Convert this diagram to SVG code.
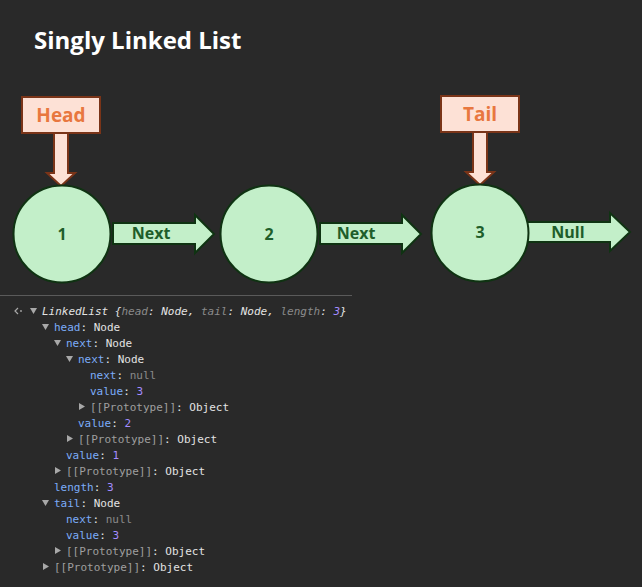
<svg xmlns="http://www.w3.org/2000/svg" width="642" height="587" viewBox="0 0 642 587">
<style>
.node{fill:#c3efc9;stroke:#0f3312;stroke-width:2}
.nlabel{font-family:"Open Sans","Liberation Sans",sans-serif;font-weight:bold;font-size:16px;fill:#1e5e2a;text-anchor:middle}
.arrowg{fill:#c3efc9;stroke:#0f3312;stroke-width:2;stroke-linejoin:miter}
.alabel{font-family:"Open Sans","Liberation Sans",sans-serif;font-weight:bold;font-size:16px;fill:#1e5e2a;text-anchor:middle}
.ptr{fill:#fde1d6;stroke:#7a3418;stroke-width:2}
.plabel{font-family:"Open Sans","Liberation Sans",sans-serif;font-weight:bold;font-size:19px;fill:#e8773f;text-anchor:middle}
.con{font-family:"DejaVu Sans Mono","Liberation Mono",monospace;font-size:11px;fill:#e3e3e3}
.k{fill:#7cacf8}
.g{fill:#8b8b8b}
.p{fill:#9f9f9f}
.n{fill:#a38cff}
.tri{fill:#a8a8a8}
</style>
<rect x="0" y="0" width="642" height="587" fill="#292929"/>
<text x="34" y="49" font-family="Open Sans, Liberation Sans, sans-serif" font-weight="bold" font-size="24" fill="#ffffff">Singly Linked List</text>

<g id="connectors">
  <path class="arrowg" d="M113,223 H195 V215 L214,234 L195,253 V244 H113 Z"/>
  <text class="alabel" x="151" y="239">Next</text>
  <path class="arrowg" d="M320,223 H402 V215 L421,234 L402,253 V244 H320 Z"/>
  <text class="alabel" x="356" y="239">Next</text>
  <path class="arrowg" d="M524,222 H610 V213 L630,232 L610,251 V242 H524 Z"/>
  <text class="alabel" x="568" y="238">Null</text>
  <path class="ptr" d="M54,133 H68 V173 H75 L61,186 L47,173 H54 Z"/>
  <path class="ptr" d="M473,132 H487 V172 H494 L480,185 L466,172 H473 Z"/>
</g>

<g id="head">
  <rect class="ptr" x="22" y="97" width="78" height="36"/>
  <text class="plabel" x="61" y="122">Head</text>
</g>
<g id="tail">
  <rect class="ptr" x="441" y="96" width="78" height="36"/>
  <text class="plabel" x="480" y="121">Tail</text>
</g>

<g id="node1">
  <circle class="node" cx="62" cy="234" r="48.5"/>
  <text class="nlabel" x="62" y="240">1</text>
</g>
<g id="node2">
  <circle class="node" cx="269" cy="234" r="48.5"/>
  <text class="nlabel" x="269" y="240">2</text>
</g>
<g id="node3">
  <circle class="node" cx="480" cy="233" r="48.5"/>
  <text class="nlabel" x="480" y="238">3</text>
</g>

<g id="console">
  <line x1="0" y1="295.5" x2="352" y2="295.5" stroke="#5a5a5a" stroke-width="1"/>
  <path d="M18,308 L15,311 L18,314" fill="none" stroke="#a8a8a8" stroke-width="1.2"/>
  <circle cx="21" cy="311" r="0.9" fill="#a8a8a8"/>
  <polygon class="tri" points="30,308 37,308 33.5,314"/>
  <text class="con" x="42" y="315" font-style="italic">LinkedList {<tspan class="g">head</tspan>: Node, <tspan class="g">tail</tspan>: Node, <tspan class="g">length</tspan>: <tspan class="n">3</tspan>}</text>

  <polygon class="tri" points="42,324 49,324 45.5,330"/>
  <text class="con" x="54" y="331"><tspan class="k">head</tspan>: Node</text>
  <polygon class="tri" points="54,340 61,340 57.5,346"/>
  <text class="con" x="66" y="347"><tspan class="k">next</tspan>: Node</text>
  <polygon class="tri" points="66,356 73,356 69.5,362"/>
  <text class="con" x="78" y="363"><tspan class="k">next</tspan>: Node</text>
  <text class="con" x="90" y="379"><tspan class="k">next</tspan>: <tspan class="g">null</tspan></text>
  <text class="con" x="90" y="395"><tspan class="k">value</tspan>: <tspan class="n">3</tspan></text>
  <polygon class="tri" points="79,403 85,406.5 79,410"/>
  <text class="con" x="90" y="411"><tspan class="p">[[Prototype]]</tspan>: Object</text>
  <text class="con" x="78" y="427"><tspan class="k">value</tspan>: <tspan class="n">2</tspan></text>
  <polygon class="tri" points="67,435 73,438.5 67,442"/>
  <text class="con" x="78" y="443"><tspan class="p">[[Prototype]]</tspan>: Object</text>
  <text class="con" x="66" y="459"><tspan class="k">value</tspan>: <tspan class="n">1</tspan></text>
  <polygon class="tri" points="55,467 61,470.5 55,474"/>
  <text class="con" x="66" y="475"><tspan class="p">[[Prototype]]</tspan>: Object</text>
  <text class="con" x="54" y="491"><tspan class="k">length</tspan>: <tspan class="n">3</tspan></text>
  <polygon class="tri" points="42,500 49,500 45.5,506"/>
  <text class="con" x="54" y="507"><tspan class="k">tail</tspan>: Node</text>
  <text class="con" x="66" y="523"><tspan class="k">next</tspan>: <tspan class="g">null</tspan></text>
  <text class="con" x="66" y="539"><tspan class="k">value</tspan>: <tspan class="n">3</tspan></text>
  <polygon class="tri" points="55,547 61,550.5 55,554"/>
  <text class="con" x="66" y="555"><tspan class="p">[[Prototype]]</tspan>: Object</text>
  <polygon class="tri" points="43,563 49,566.5 43,570"/>
  <text class="con" x="54" y="571"><tspan class="p">[[Prototype]]</tspan>: Object</text>
</g>
</svg>
